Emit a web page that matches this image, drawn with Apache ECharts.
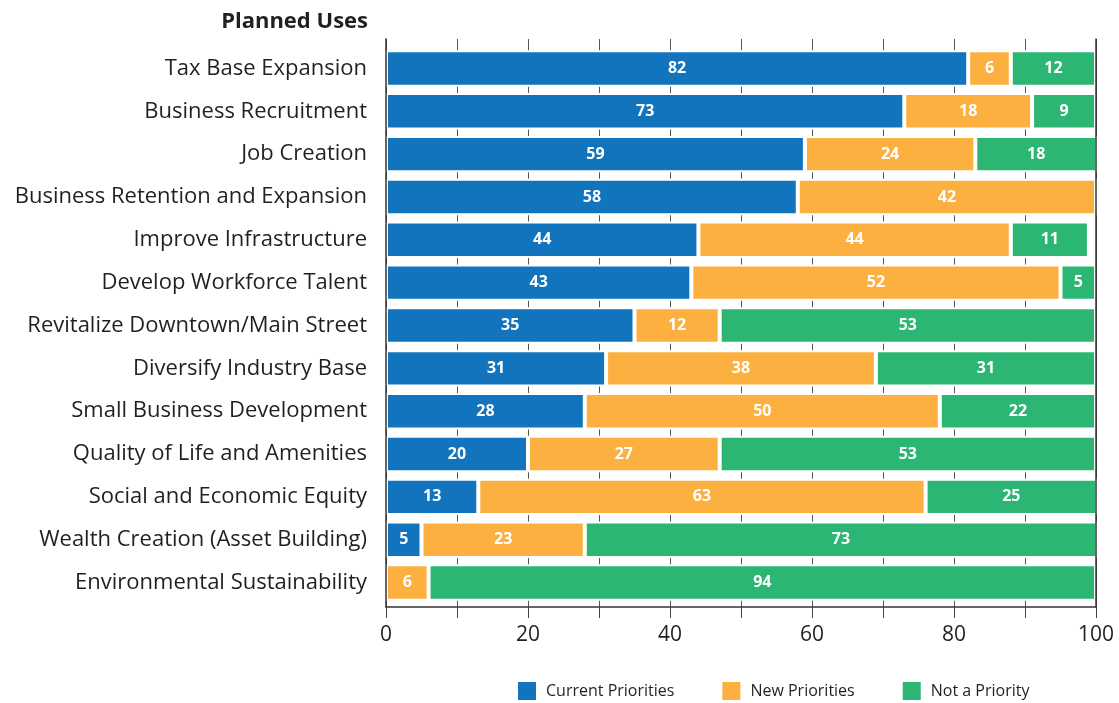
<!DOCTYPE html>
<html>
<head>
<meta charset="utf-8">
<script src="https://cdn.jsdelivr.net/npm/echarts@6/dist/echarts.min.js"></script>
<style>
  html, body { margin: 0; padding: 0; background: #ffffff; }
  #chart { width: 1119px; height: 703px; }
</style>
</head>
<body>
<div id="chart"></div>
<script>
// Planned uses of funds, share of respondents (%)
const categories = [
  'Tax Base Expansion',
  'Business Recruitment',
  'Job Creation',
  'Business Retention and Expansion',
  'Improve Infrastructure',
  'Develop Workforce Talent',
  'Revitalize Downtown/Main Street',
  'Diversify Industry Base',
  'Small Business Development',
  'Quality of Life and Amenities',
  'Social and Economic Equity',
  'Wealth Creation (Asset Building)',
  'Environmental Sustainability'
];
const currentPriorities = [82, 73, 59, 58, 44, 43, 35, 31, 28, 20, 13, 5, 0];
const newPriorities     = [6, 18, 24, 42, 44, 52, 12, 38, 50, 27, 63, 23, 6];
const notAPriority      = [12, 9, 18, 0, 11, 5, 53, 31, 22, 53, 25, 73, 94];
const xTicks = [0, 20, 40, 60, 80, 100];

const seriesNames = ['Current Priorities', 'New Priorities', 'Not a Priority'];
const seriesColors = ['#1174bd', '#fbb040', '#2cb673'];
const seriesData = [currentPriorities, newPriorities, notAPriority];

const textColor = '#231f20';
const chart = echarts.init(document.getElementById('chart'), null, { renderer: 'canvas' });

const series = seriesData.map((values, i) => ({
  name: seriesNames[i],
  type: 'bar',
  stack: 'total',
  xAxisIndex: 0,
  yAxisIndex: 0,
  barWidth: '85%',
  data: values,
  itemStyle: { color: seriesColors[i], borderColor: '#ffffff', borderWidth: 2 },
  label: {
    show: true,
    position: 'inside',
    color: '#ffffff',
    fontFamily: 'Open Sans',
    fontWeight: 'bold',
    fontSize: 16,
    formatter: p => (p.value ? String(p.value) : '')
  },
  emphasis: { disabled: true }
}));

chart.setOption({
  animation: false,
  title: {
    text: 'Planned Uses',
    right: 746,
    top: 6,
    textStyle: { fontFamily: 'Open Sans', fontWeight: 'bold', fontSize: 22, color: textColor }
  },
  legend: {
    data: seriesNames,
    left: 511,
    top: 675,
    icon: 'rect',
    itemWidth: 20,
    itemHeight: 20,
    itemGap: 46,
    textStyle: { fontFamily: 'Open Sans', fontSize: 16, color: textColor, padding: [0, 0, 0, 4] }
  },
  grid: [
    // bars
    { left: 386, right: 23, top: 47, bottom: 99 },
    // frame: axis lines, gridlines, ticks
    { left: 386, right: 23, top: 39, bottom: 96 }
  ],
  xAxis: [
    { gridIndex: 0, type: 'value', min: 0, max: 100, show: false },
    {
      gridIndex: 1,
      type: 'value',
      min: 0,
      max: 100,
      interval: 10,
      axisLine: { show: true, lineStyle: { color: '#333333', width: 1.5 } },
      axisTick: { show: true, length: 11, lineStyle: { color: '#444444', width: 1 } },
      splitLine: { show: true, lineStyle: { color: '#555555', width: 1 } },
      axisLabel: {
        margin: 18,
        fontFamily: 'Open Sans',
        fontSize: 21,
        color: textColor,
        formatter: v => (xTicks.includes(v) ? String(v) : '')
      }
    }
  ],
  yAxis: [
    {
      gridIndex: 0,
      type: 'category',
      data: categories,
      inverse: true,
      axisLine: { show: false },
      axisTick: { show: false },
      axisLabel: { margin: 19, fontFamily: 'Open Sans', fontSize: 22, color: textColor }
    },
    {
      gridIndex: 1, type: 'value', position: 'left', z: 5,
      axisLine: { show: true, lineStyle: { color: '#333333', width: 1.5 } },
      axisTick: { show: false }, axisLabel: { show: false }, splitLine: { show: false }
    },
    {
      gridIndex: 1, type: 'value', position: 'right', z: 5,
      axisLine: { show: true, lineStyle: { color: '#333333', width: 1.5 } },
      axisTick: { show: false }, axisLabel: { show: false }, splitLine: { show: false }
    }
  ],
  series: series
});
</script>
</body>
</html>
